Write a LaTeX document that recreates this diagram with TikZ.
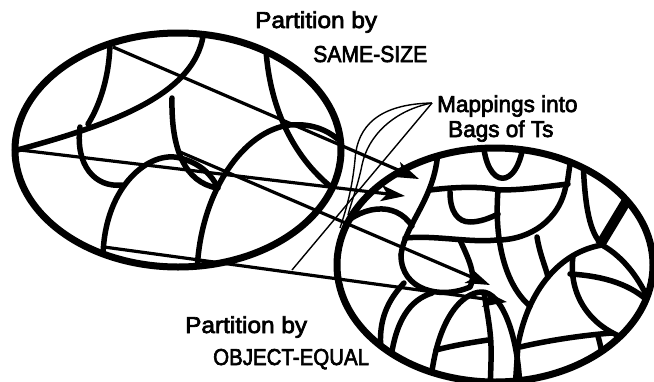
\documentclass[tikz,border=0pt]{standalone}
\usepackage{fontspec}
\setmainfont{Liberation Sans}
\newfontfamily\lblfont{Liberation Sans}[FakeBold=3]
\usepackage{graphicx}
\usetikzlibrary{arrows.meta}
\tikzset{
  pring/.style={line width=7pt},
  pcut/.style={line width=5.5pt,line cap=round,line join=round},
  pbar/.style={line width=10pt},
  parr/.style={-{Stealth[length=24pt,width=16pt,inset=6pt]},line width=3.2pt},
  plead/.style={line width=1.4pt},
  plbl/.style={inner sep=0pt,anchor=base west,font=\lblfont\fontsize{23}{27}\selectfont}
}
\begin{document}
\begin{tikzpicture}[x=1pt,y=-1pt]
  \useasboundingbox (0,0) rectangle (654,381);
  % left ring, SAME-SIZE classes
  \begin{scope}
    \clip (178,150) ellipse [x radius=163pt,y radius=117pt];
    \draw[pcut] (110,40) .. controls (110,75) and (100,105) .. (88,124);
    \draw[pcut] (10,152) .. controls (110,125) and (200,95) .. (204,28);
    \draw[pcut] (80,127) .. controls (75,165) and (95,188) .. (122,185);
    \draw[pcut] (172,98) .. controls (171,150) and (185,182) .. (217,188);
    \draw[pcut] (103,255) .. controls (105,185) and (150,150) .. (180,158) .. controls (200,163) and (212,175) .. (218,188);
    \draw[pcut] (197,272) .. controls (200,190) and (245,130) .. (290,125) .. controls (315,123) and (332,132) .. (345,146);
    \draw[pcut] (266,50) .. controls (270,110) and (295,160) .. (335,190);
  \end{scope}
  \draw[pring] (178,150) ellipse [x radius=163pt,y radius=117pt];
  % right ring, OBJECT-EQUAL classes
  \begin{scope}
    \clip (495,265) ellipse [x radius=158pt,y radius=117pt];
    \draw[pcut] (335,232) .. controls (360,205) and (395,200) .. (412,226);
    \draw[pcut] (438,140) .. controls (440,195) and (405,222) .. (401,255);
    \draw[pcut] (401,255) .. controls (401,290) and (440,300) .. (470,287) .. controls (477,275) and (468,258) .. (460,240);
    \draw[pcut] (404,283) .. controls (388,300) and (378,320) .. (381,350);
    \draw[pcut] (430,190) .. controls (455,187) and (480,186) .. (500,190) .. controls (525,190) and (550,186) .. (568,184);
    \draw[pcut] (483,140) .. controls (486,190) and (518,192) .. (524,140);
    \draw[pcut] (572,150) -- (567,185);
    \draw[pcut] (450,192) .. controls (450,212) and (458,222) .. (470,222) .. controls (480,222) and (490,218) .. (498,214);
    \draw[pcut] (498,190) .. controls (494,240) and (505,285) .. (530,306);
    \draw[pcut] (405,238) .. controls (435,235) and (470,243) .. (497,240);
    \draw[pcut] (497,240) .. controls (530,240) and (560,220) .. (566,185);
    \draw[pcut] (537,237) .. controls (540,255) and (545,265) .. (548,277);
    \draw[pcut] (583,160) .. controls (585,210) and (590,232) .. (602,245);
    \draw[pbar] (632,192) -- (600,245);
    \draw[pcut] (602,245) .. controls (625,258) and (640,280) .. (650,303);
    \draw[pcut] (602,245) .. controls (560,252) and (528,290) .. (518,345) -- (515,390);
    \draw[pcut] (573,256) .. controls (568,295) and (590,328) .. (630,340);
    \draw[pcut] (570,274) .. controls (605,276) and (632,285) .. (650,303) -- (652,330);
    \draw[pcut] (430,390) .. controls (435,320) and (462,292) .. (482,292) .. controls (500,292) and (518,330) .. (520,390);
    \draw[pcut] (484,293) .. controls (492,340) .. (490,390);
    \draw[pcut] (436,350) .. controls (455,345) and (475,342) .. (488,340);
    \draw[pcut] (390,365) .. controls (395,320) and (410,300) .. (432,293);
    \draw[pcut] (520,347) .. controls (550,340) and (585,335) .. (612,333);
    \draw[pcut] (598,336) .. controls (603,355) and (606,370) .. (603,390);
  \end{scope}
  \draw[pring] (495,265) ellipse [x radius=158pt,y radius=117pt];
  % mappings
  \coordinate (m1a) at (113,47);  \coordinate (m1b) at (419,179);
  \coordinate (m2a) at (20,150);  \coordinate (m2b) at (405,196);
  \coordinate (m3a) at (180,152); \coordinate (m3b) at (490,285);
  \coordinate (m4a) at (104,247); \coordinate (m4b) at (507,302);
  \draw[parr] (m1a) -- (m1b);
  \draw[parr] (m2a) -- (m2b);
  \draw[parr] (m3a) -- (m3b);
  \draw[parr] (m4a) -- (m4b);
  % labels
  \node[plbl] (ss1) at (255,28) {\scalebox{1.06}[1]{Partition by}};
  \node[plbl] (ss2) at (313,62) {\scalebox{0.92}[1]{SAME-SIZE}};
  \node[plbl] (mp1) at (437,112) {\scalebox{0.98}[1]{Mappings into}};
  \node[plbl] (mp2) at (448,137) {\scalebox{0.98}[1]{Bags of Ts}};
  \node[plbl] (oe1) at (185,333) {\scalebox{1.06}[1]{Partition by}};
  \node[plbl] (oe2) at (213,365) {\scalebox{0.89}[1]{OBJECT-EQUAL}};
  % leaders
  \coordinate (tip) at (432,103);
  \coordinate (ld1) at (292,270);
  \coordinate (ld2) at (340,228);
  \coordinate (ld3) at (348,215);
  \draw[plead] (tip) -- (ld1);
  \draw[plead] (tip) .. controls (380,104) and (357,125) .. (355,160) .. controls (352,190) and (346,210) .. (ld2);
  \draw[plead] (tip) .. controls (395,110) and (368,135) .. (362,165) .. controls (358,185) and (352,200) .. (ld3);
\end{tikzpicture}
\end{document}
